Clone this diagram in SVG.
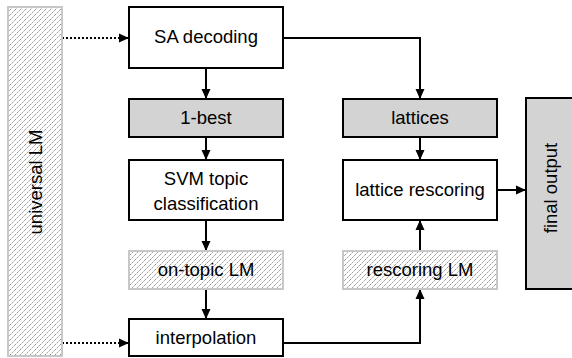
<svg xmlns="http://www.w3.org/2000/svg" width="572" height="358" viewBox="0 0 572 358">
<style>
.box{fill:#fff;stroke:#000;stroke-width:2}
.gray{fill:#d3d3d3;stroke:#000;stroke-width:2}
.hatch{fill:url(#hatch);stroke:#c8c8c8;stroke-width:2}
.t{font-family:"Liberation Sans",Arial,sans-serif;font-size:18.5px;fill:#000;text-anchor:middle;dominant-baseline:central}
.c{fill:none;stroke:#000;stroke-width:2;marker-end:url(#ah)}
.d{fill:none;stroke:#000;stroke-width:2;stroke-dasharray:2 2;marker-end:url(#ah)}
</style>
<defs>
<pattern id="hatch" patternUnits="userSpaceOnUse" width="5" height="5">
<rect width="5" height="5" fill="#fff"/>
<path d="M-1.5,1.5 L1.5,-1.5 M0,5 L5,0 M3.5,6.5 L6.5,3.5" stroke="#8a8a8a" stroke-width="0.9" stroke-dasharray="2 1"/>
</pattern>
<marker id="ah" markerUnits="userSpaceOnUse" markerWidth="11" markerHeight="10" refX="10" refY="5" orient="auto">
<path d="M0,0.5 L10,5 L0,9.5 z" fill="#000"/>
</marker>
</defs>
<g id="connectors">
<path class="d" d="M62,38 H129"/>
<path class="d" d="M62,343 H129"/>
<path class="c" d="M206,68 V99"/>
<path class="c" d="M206,137 V160"/>
<path class="c" d="M206,220 V251"/>
<path class="c" d="M206,289 V319"/>
<path class="c" d="M283,38 H420 V99"/>
<path class="c" d="M420,137 V160"/>
<path class="c" d="M283,343 H420 V289"/>
<path class="c" d="M420,251 V220"/>
<path class="c" d="M497,190 H526"/>
</g>
<g id="universal-lm">
<rect class="hatch" x="8" y="7" width="54" height="349"/>
<text class="t" transform="translate(35,182) rotate(-90)">universal LM</text>
</g>
<g id="sa-decoding">
<rect class="box" x="129" y="7" width="154" height="61"/>
<text class="t" x="206" y="36.5">SA decoding</text>
</g>
<g id="one-best">
<rect class="gray" x="129" y="99" width="154" height="38"/>
<text class="t" x="206" y="117.5">1-best</text>
</g>
<g id="svm">
<rect class="box" x="129" y="160" width="154" height="60"/>
<text class="t" x="206" y="178">SVM topic</text>
<text class="t" x="206" y="203">classification</text>
</g>
<g id="on-topic-lm">
<rect class="hatch" x="129" y="251" width="154" height="38"/>
<text class="t" x="206" y="269.5">on-topic LM</text>
</g>
<g id="interpolation">
<rect class="box" x="129" y="319" width="154" height="37"/>
<text class="t" x="206" y="337">interpolation</text>
</g>
<g id="lattices">
<rect class="gray" x="343" y="99" width="154" height="38"/>
<text class="t" x="420" y="117.5">lattices</text>
</g>
<g id="lattice-rescoring">
<rect class="box" x="343" y="160" width="154" height="60"/>
<text class="t" x="420" y="189">lattice rescoring</text>
</g>
<g id="rescoring-lm">
<rect class="hatch" x="343" y="251" width="154" height="38"/>
<text class="t" x="420" y="269.5">rescoring LM</text>
</g>
<g id="final-output">
<rect class="gray" x="526" y="98" width="50" height="191"/>
<text class="t" transform="translate(550,188) rotate(-90)">final output</text>
</g>
</svg>
